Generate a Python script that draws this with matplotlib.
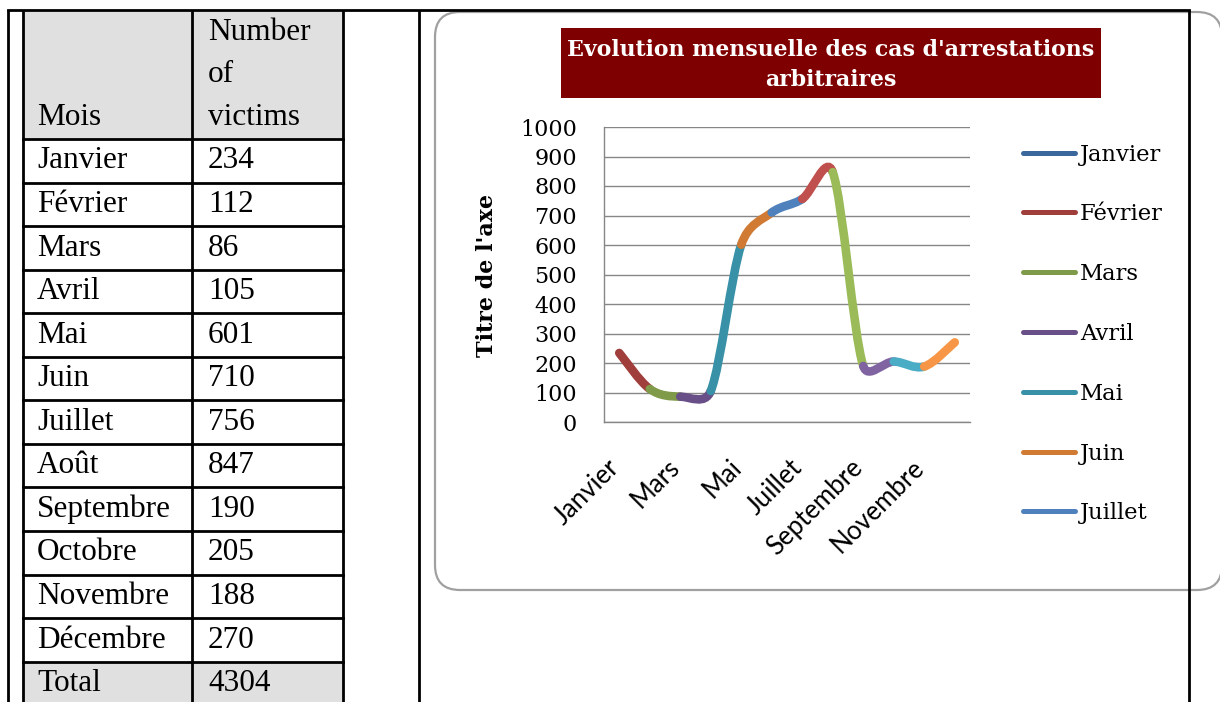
import matplotlib
matplotlib.use('Agg')
import numpy as np
import matplotlib.pyplot as plt
from matplotlib.path import Path
from matplotlib.patches import PathPatch, Rectangle, FancyBboxPatch
from matplotlib.lines import Line2D
from matplotlib.transforms import ScaledTranslation

# donnees du tableau / graphique
mois = ['Janvier', 'Février', 'Mars', 'Avril', 'Mai', 'Juin', 'Juillet',
        'Août', 'Septembre', 'Octobre', 'Novembre', 'Décembre']
victimes = [234, 112, 86, 105, 601, 710, 756, 847, 190, 205, 188, 270]
couleurs = ['#3a679c', '#a03e3b', '#7f9a48', '#684f87', '#3891a7', '#d07a34',
            '#4f81bd', '#c0504d', '#9bbb59', '#8064a2', '#4bacc6', '#f79646']
y_ticks = list(range(0, 1001, 100))
x_labels = mois[::2]
titre = "Evolution mensuelle des cas d'arrestations\narbitraires"
n_legende = 7


def smooth_segments(ax, x, y):
    # courbe lissee facon Excel : bezier 1/6, bras limite a la moitie du segment
    pts = ax.transData.transform(np.column_stack([x, y]))
    inv = ax.transData.inverted()
    n = len(pts)
    segs = []
    for i in range(n - 1):
        p0 = pts[max(i - 1, 0)]
        p1 = pts[i]
        p2 = pts[i + 1]
        p3 = pts[min(i + 2, n - 1)]
        half = np.hypot(*(p2 - p1)) / 2
        d1 = (p2 - p0) / 6
        d2 = (p3 - p1) / 6
        if np.hypot(*d1) > half:
            d1 = d1 * half / np.hypot(*d1)
        if np.hypot(*d2) > half:
            d2 = d2 * half / np.hypot(*d2)
        verts = inv.transform(np.array([p1, p1 + d1, p2 - d2, p2]))
        segs.append(Path(verts, [Path.MOVETO, Path.CURVE4, Path.CURVE4, Path.CURVE4]))
    return segs


def main():
    fig = plt.figure(figsize=(12.2, 7.02), dpi=100)

    # page (pixels)
    doc = fig.add_axes([0, 0, 1, 1])
    doc.set_xlim(0, 1220)
    doc.set_ylim(702, 0)
    doc.axis('off')

    row_h = 43.55
    head_bot = 139
    tfont = dict(family='Liberation Serif', size=22.5, color='black')

    doc.add_patch(Rectangle((23, 10), 320, head_bot - 10, fc='#e0e0e0', ec='none'))
    doc.add_patch(Rectangle((23, head_bot + 12 * row_h), 320, 60, fc='#e0e0e0', ec='none'))

    # cadre du graphique
    doc.add_patch(FancyBboxPatch((435, 12), 787, 578,
                                 boxstyle='round,pad=0,rounding_size=25',
                                 fc='white', ec='#a0a0a0', lw=1.6))
    doc.add_patch(Rectangle((561, 28), 540, 70, fc='#7f0000', ec='none'))
    doc.text(831, 65, titre, ha='center', va='center', color='white',
             family='DejaVu Serif', fontweight='bold', size=15.8,
             linespacing=1.5, multialignment='center')

    lw = 2.0
    for x in [8, 23, 192, 343, 419, 1189]:
        doc.plot([x, x], [10, 702], color='black', lw=lw, solid_capstyle='butt')
    doc.plot([8, 1189], [10, 10], color='black', lw=lw, solid_capstyle='projecting')
    for k in range(13):
        y = head_bot + k * row_h
        doc.plot([23, 343], [y, y], color='black', lw=lw)

    doc.text(37, 125, 'Mois', va='baseline', **tfont)
    for j, w in enumerate(['Number', 'of', 'victims']):
        doc.text(208, 40 + j * 42.5, w, va='baseline', **tfont)
    lignes = list(zip(mois, victimes)) + [('Total', sum(victimes))]
    for i, (m, v) in enumerate(lignes):
        top = head_bot + i * row_h
        doc.text(37, top + 29.5, m, va='baseline', **tfont)
        doc.text(208, top + 29.5, str(v), va='baseline', **tfont)

    doc.text(487, 275, "Titre de l'axe", rotation=90, ha='center', va='center',
             family='DejaVu Serif', fontweight='bold', size=16)

    # graphique
    ax = fig.add_axes([604 / 1220, 1 - 422 / 702, 366 / 1220, 295 / 702])
    ax.patch.set_alpha(0)
    ax.set_xlim(-0.5, len(mois) - 0.5)
    ax.set_ylim(0, 1000)

    for path, c in zip(smooth_segments(ax, list(range(len(mois))), victimes), couleurs[1:]):
        ax.add_patch(PathPatch(path, fc='none', ec=c, lw=6.2, capstyle='round',
                               clip_on=False))

    ax.set_yticks(y_ticks)
    ax.tick_params(axis='y', length=0, pad=19.4, labelsize=16)
    for lbl in ax.get_yticklabels():
        lbl.set_fontfamily('DejaVu Serif')
    ax.grid(axis='y', color='#868686', lw=1.0)
    ax.set_axisbelow(True)
    for s in ['top', 'right']:
        ax.spines[s].set_visible(False)
    for s in ['left', 'bottom']:
        ax.spines[s].set_color('#868686')
        ax.spines[s].set_linewidth(1.0)

    ax.set_xticks(range(0, len(mois), 2))
    ax.tick_params(axis='x', length=0, pad=30)
    ax.set_xticklabels(x_labels, rotation=45, ha='right', va='center',
                       rotation_mode='anchor', fontfamily='Lato', fontsize=18.5)
    for lbl in ax.get_xticklabels():
        lbl.set_transform(lbl.get_transform() + ScaledTranslation(-4 / 100, 0, fig.dpi_scale_trans))

    handles = [Line2D([], [], color=couleurs[i], lw=3.6, solid_capstyle='round')
               for i in range(n_legende)]
    fig.legend(handles, mois[:n_legende], loc='upper left',
               bbox_to_anchor=(1023 / 1220, 1 - 143.5 / 702), frameon=False,
               prop={'family': 'DejaVu Serif', 'size': 16.3},
               handlelength=2.3, handletextpad=0.22, labelspacing=1.67,
               borderpad=0, borderaxespad=0)

    fig.savefig('out.png', dpi=100)


if __name__ == '__main__':
    main()
